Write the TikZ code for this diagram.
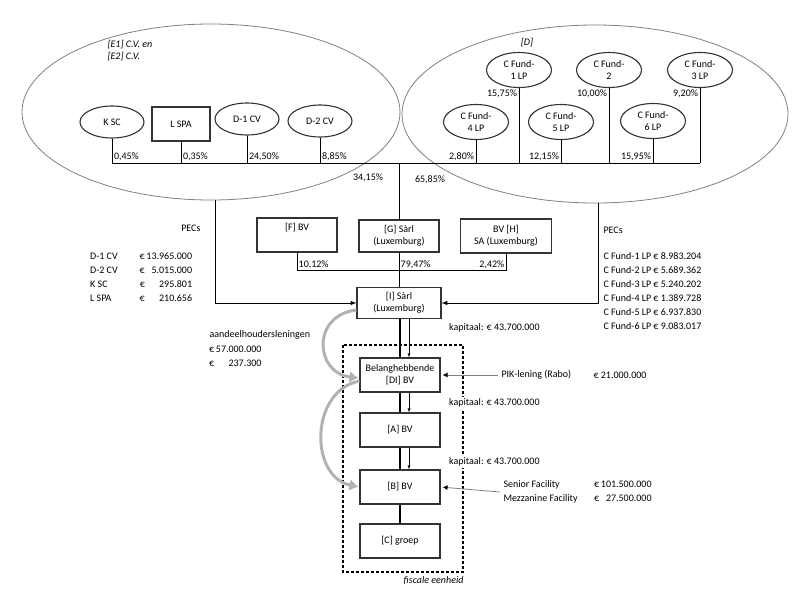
\documentclass[tikz,border=0pt]{standalone}
\usepackage{fontspec}
\setmainfont{Carlito}
\usetikzlibrary{arrows,arrows.meta,positioning,shapes.geometric}
\tikzset{font=\fontsize{10}{12}\selectfont}
\tikzset{every node/.append style={transform shape=false}}
\tikzset{
  entity/.style={draw=black!80, line width=1.1pt, align=center,
    minimum width=80, minimum height=34, inner sep=1pt},
  holder/.style={draw=black!80, line width=1.1pt, ellipse, align=center,
    minimum width=64, minimum height=32, inner sep=0pt},
  own/.style={line width=1pt},
  pct/.style={inner sep=1.5pt},
  grp/.style={font=\fontsize{10}{12}\selectfont\itshape},
  tab/.style={font=\fontsize{10}{14}\selectfont},
  link/.style={gray, line width=.8pt, -{Latex[black,length=5pt,width=5pt]}, shorten >=2pt},
  loan/.style={gray!60, line width=3pt, -{Latex[length=9pt,width=12pt]}, shorten >=1pt},
  fisc/.style={dash pattern=on 3pt off 2pt, line width=1.6pt}
}

\begin{document}
\begin{tikzpicture}[x=1pt,y=-1pt]
  \useasboundingbox (0,0) rectangle (800,595);

  \draw[gray, line width=.8pt] (211,112) ellipse [x radius=189, y radius=88];
  \draw[gray, line width=.8pt] (595,114) ellipse [x radius=193, y radius=89];
  \node[grp, anchor=west, align=left] (grpe) at (104,51) {[E1] C.V. en\\{}[E2] C.V.};
  \node[grp] (grpd) at (527,43) {[D]};

  \node[holder] (ksc) at (112,122) {K SC};
  \node[entity, minimum width=58] (lspa) at (181,124) {L SPA};
  \node[holder] (dcv1) at (247,119) {D-1 CV};
  \node[holder] (dcv2) at (320,121) {D-2 CV};
  \node[holder, minimum width=65, minimum height=35] (cf1) at (519,70) {C Fund-\\1 LP};
  \node[holder, minimum width=65, minimum height=35] (cf2) at (609,70) {C Fund-\\2};
  \node[holder, minimum width=65, minimum height=35] (cf3) at (700,70) {C Fund-\\3 LP};
  \node[holder, minimum width=65, minimum height=35] (cf4) at (476,122) {C Fund-\\4 LP};
  \node[holder, minimum width=65, minimum height=35] (cf5) at (561,122) {C Fund-\\5 LP};
  \node[holder, minimum width=65, minimum height=35] (cf6) at (653,121) {C Fund-\\6 LP};

  \coordinate (bar) at (0,163);
  \coordinate (hub) at (399,163);
  \draw[own] (ksc.south |- bar) -- (cf3.south |- bar);
  \foreach \n/\p in {ksc/{0,45\%},lspa/{0,35\%},dcv1/{24,50\%},dcv2/{8,85\%}}
    \draw[own] (\n.south) -- (\n.south |- bar) node[pct, above right] (p-\n) {\p};
  \foreach \n/\p in {cf1/{15,75\%},cf2/{10,00\%},cf3/{9,20\%}}
    \draw[own] (\n.south) -- (\n.south |- bar) node[pos=0, pct, below left] (p-\n) {\p};
  \foreach \n/\p in {cf4/{2,80\%},cf5/{12,15\%},cf6/{15,95\%}}
    \draw[own] (\n.south) -- (\n.south |- bar) node[pct, above left] (p-\n) {\p};
  \node[pct] (p-left) at (368,178) {34,15\%};
  \node[pct] (p-right) at (430,180) {65,85\%};

  \node[entity] (fbv) at (297,235) {[F] BV\\\strut};
  \node[entity, minimum height=32] (gsarl) at (399,236) {[G] Sàrl\\(Luxemburg)};
  \node[entity, minimum width=91] (hsa) at (506,236) {BV [H]\\SA (Luxemburg)};
  \node[entity, minimum width=84, minimum height=31] (isarl) at (399,303) {[I] Sàrl\\(Luxemburg)};

  \draw[own] (hub) -- (gsarl.north);
  \coordinate (join) at (0,270);
  \draw[own] (fbv.south) |- (hsa.south |- join) -- (hsa.south);
  \draw[own] (gsarl.south) -- (isarl.north);
  \node[pct, above right] (p-fbv) at (fbv.south |- join) {10,12\%};
  \node[pct, above right] (p-gsarl) at (gsarl.south |- join) {79,47\%};
  \node[pct, above left] (p-hsa) at (hsa.south |- join) {2,42\%};

  \coordinate (pecl) at (215,200);
  \coordinate (pecr) at (598,203);
  \draw[own, -latex] (pecl) |- (isarl.west);
  \draw[own, -latex] (pecr) |- (isarl.east);

  \node[anchor=east] (pecs-l) at (204,228) {PECs};
  \node[tab, anchor=north west, inner sep=0pt] (tab-l) at (90,249) {%
    \begin{tabular}{@{}l@{\hspace{22pt}}l@{\,}r@{}}
      D-1 CV & € & 13.965.000\\
      D-2 CV & € & 5.015.000\\
      K SC & € & 295.801\\
      L SPA & € & 210.656
    \end{tabular}};
  \node[anchor=west] (pecs-r) at (600,230) {PECs};
  \node[tab, anchor=north west, align=left] (tab-r) at (600,249) {%
    C Fund-1 LP € 8.983.204\\C Fund-2 LP € 5.689.362\\C Fund-3 LP € 5.240.202\\
    C Fund-4 LP € 1.389.728\\C Fund-5 LP € 6.937.830\\C Fund-6 LP € 9.083.017};

  \node[entity] (dibv) at (400,375) {Belanghebbende\\{}[DI] BV};
  \node[entity] (abv) at (400,430) {[A] BV};
  \node[entity] (bbv) at (400,487) {[B] BV};
  \node[entity] (cgrp) at (400,541) {[C] groep};
  \foreach \a/\b in {isarl/dibv,dibv/abv,abv/bbv}{
    \draw[line width=1.4pt] (\a.south -| \b.north) -- (\b.north);
    \draw[-latex] ([xshift=9]\a.south -| \b.north) -- ([xshift=9]\b.north);
  }
  \draw[line width=1.4pt] (bbv) -- (cgrp);

  % fiscale eenheid
  \draw[fisc] (343,345) rectangle (463,572);
  \node[grp, anchor=north east] (fisc) at (467,573) {fiscale eenheid};
  \node[anchor=west, fill=white, inner sep=2pt] (kap1) at (447,328) {kapitaal: € 43.700.000};
  \node[anchor=west, fill=white, inner sep=2pt] (kap2) at (447,403) {kapitaal: € 43.700.000};
  \node[anchor=west, fill=white, inner sep=2pt] (kap3) at (447,462) {kapitaal: € 43.700.000};

  \node[anchor=west] (pik) at (498,375) {PIK-lening (Rabo)};
  \node[anchor=west] (pikamt) at (590,375) {€ 21.000.000};
  \draw[link] (pik.west) -- (dibv.east);
  \node[tab, anchor=west, align=left] (fac) at (500,492) {Senior Facility\\Mezzanine Facility};
  \node[tab, anchor=west, inner sep=0pt] (facamt) at (594,492) {%
    \begin{tabular}{@{}l@{\,}r@{}} € & 101.500.000\\ € & 27.500.000\end{tabular}};
  \draw[link] (fac.west) -- (bbv.east);

  \node[anchor=west] (ahl) at (206,335) {aandeelhoudersleningen};
  \node[tab, anchor=north west, inner sep=0pt] (ahlamt) at (209,342) {%
    \begin{tabular}{@{}l@{\,}r@{}} € & 57.000.000\\ € & 237.300\end{tabular}};
  \draw[loan] ([yshift=-7]isarl.west) .. controls +(-45,5) and +(-45,-5) .. ([yshift=-3]dibv.west);
  \draw[loan] ([yshift=-6]dibv.west) .. controls +(-50,10) and +(-50,-10) .. (bbv.west);
\end{tikzpicture}
\end{document}
